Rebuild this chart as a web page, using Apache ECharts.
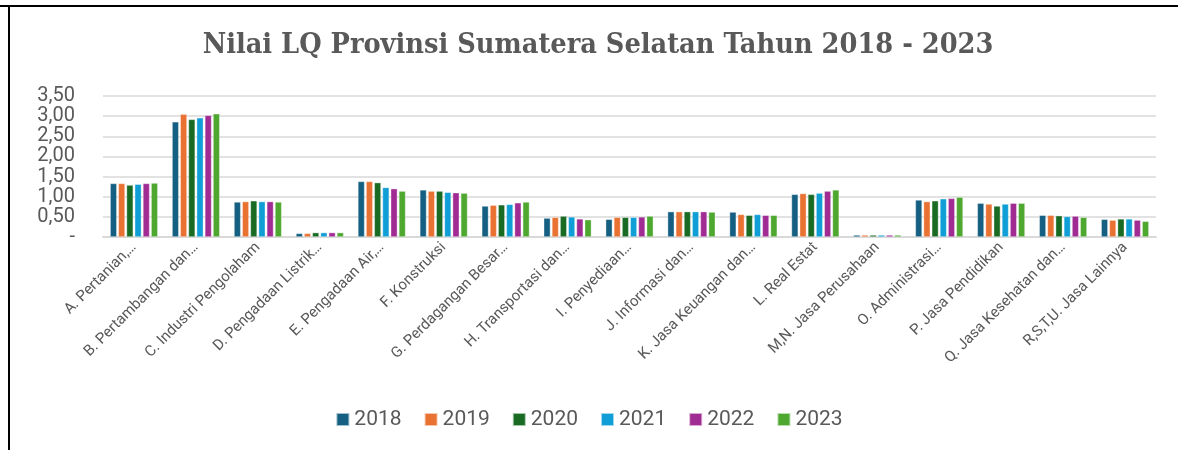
<!DOCTYPE html>
<html>
<head>
<meta charset="utf-8">
<script src="https://cdn.jsdelivr.net/npm/echarts@6/dist/echarts.min.js"></script>
<style>
html,body{margin:0;padding:0;background:#fff;}
#chart{width:1178px;height:450px;}
</style>
</head>
<body>
<div id="chart"></div>
<script>
var categories = ['A. Pertanian,…','B. Pertambangan dan…','C. Industri Pengolaham','D. Pengadaan Listrik…',
	'E. Pengadaan Air,…','F. Konstruksi','G. Perdagangan Besar…','H. Transportasi dan…','I. Penyediaan…',
	'J. Informasi dan…','K. Jasa Keuangan dan…','L. Real Estat','M,N. Jasa Perusahaan','O. Administrasi…',
	'P. Jasa Pendidikan','Q. Jasa Kesehatan dan…','R,S,T,U. Jasa Lainnya'];
var years = ['2018','2019','2020','2021','2022','2023'];
var v2018 = [1.33,2.86,0.87,0.09,1.38,1.17,0.77,0.47,0.44,0.63,0.62,1.06,0.05,0.92,0.84,0.54,0.44];
var v2019 = [1.33,3.05,0.88,0.09,1.38,1.14,0.79,0.49,0.49,0.63,0.56,1.08,0.05,0.88,0.82,0.54,0.42];
var v2020 = [1.29,2.92,0.90,0.11,1.35,1.14,0.80,0.52,0.49,0.63,0.54,1.06,0.05,0.90,0.77,0.53,0.45];
var v2021 = [1.31,2.96,0.88,0.11,1.23,1.11,0.81,0.50,0.49,0.63,0.56,1.09,0.05,0.95,0.82,0.51,0.45];
var v2022 = [1.33,3.02,0.88,0.11,1.20,1.10,0.85,0.45,0.50,0.63,0.54,1.14,0.05,0.96,0.84,0.52,0.42];
var v2023 = [1.34,3.06,0.87,0.11,1.14,1.09,0.87,0.43,0.52,0.62,0.54,1.17,0.05,0.99,0.84,0.49,0.39];
var colors = ['#156082','#E97132','#196B24','#0F9ED5','#A02B93','#4EA72E'];

var allValues = [v2018,v2019,v2020,v2021,v2022,v2023];
var textColor = '#595959';

var chart = echarts.init(document.getElementById('chart'));
var series = [];
for (var i = 0; i < years.length; i++) {
	series.push({
		name: years[i],
		type: 'bar',
		data: allValues[i],
		barGap: '22%',
		barCategoryGap: '23%',
		itemStyle: {color: colors[i], borderColor: 'rgba(255,255,255,0.6)', borderWidth: 0.6}
	});
}
chart.setOption({
	animation: false,
	color: colors,
	title: {
		text: 'Nilai LQ Provinsi Sumatera Selatan Tahun 2018 - 2023',
		left: 593, top: 26, textAlign: 'center',
		textStyle: {fontFamily: 'DejaVu Serif Condensed, Liberation Serif, serif', fontWeight: 'bold', fontSize: 28.6, color: textColor}
	},
	legend: {
		top: 404, left: 'center',
		itemWidth: 13, itemHeight: 13, itemGap: 22,
		icon: 'rect',
		textStyle: {fontFamily: 'Roboto', fontSize: 21, color: textColor}
	},
	grid: {left: 103, right: 22, top: 96, bottom: 213, containLabel: false},
	xAxis: {
		type: 'category',
		data: categories,
		axisLine: {lineStyle: {color: '#d9d9d9', width: 2}},
		axisTick: {show: false},
		axisLabel: {rotate: 45, interval: 0, margin: 8, padding: [12, 0, 0, 0], fontFamily: 'Roboto', fontSize: 15, color: textColor}
	},
	yAxis: {
		type: 'value',
		min: 0, max: 3.5, interval: 0.5,
		axisLine: {show: false},
		axisTick: {show: false},
		splitLine: {lineStyle: {color: '#d9d9d9', width: 1.5}},
		axisLabel: {
			margin: 28, fontFamily: 'Roboto', fontSize: 20, color: textColor,
			formatter: function (v) { return v === 0 ? '-' : v.toFixed(2).replace('.', ','); }
		}
	},
	graphic: [
		{type: 'rect', shape: {x: 0, y: 5, width: 1178, height: 2}, style: {fill: '#000'}},
		{type: 'rect', shape: {x: 8, y: 5, width: 2, height: 445}, style: {fill: '#000'}}
	],
	series: series
});
</script>
</body>
</html>
